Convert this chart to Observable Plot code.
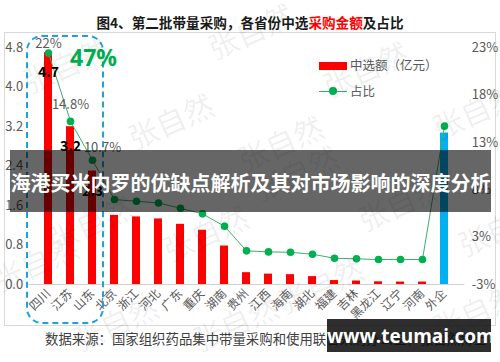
<!DOCTYPE html>
<html><head><meta charset="utf-8">
<script src="https://cdn.jsdelivr.net/npm/d3@7"></script>
<script src="https://cdn.jsdelivr.net/npm/@observablehq/plot@0.6"></script>
<style>
body{margin:0;background:#fff;font-family:"Noto Sans CJK SC","Noto Sans",sans-serif;}
#wrap{position:relative;width:500px;height:362px;overflow:hidden;background:#fff}
.abs{position:absolute;white-space:nowrap}
.wm{position:absolute;font-size:30px;color:rgba(0,0,0,0.07);transform:rotate(-24deg);transform-origin:center;white-space:nowrap;pointer-events:none}
</style></head><body><div id="wrap"></div>
<script>
const categories = ["四川","江苏","山东","北京","浙江","河北","广东","重庆","湖南","贵州","江西","海南","湖北","福建","吉林","黑龙江","辽宁","河南","外企"];
const amounts = [4.7,3.2,2.3,1.40,1.37,1.33,1.22,1.10,0.78,0.24,0.21,0.20,0.16,0.08,0.07,0.055,0.05,0.05,3.07];
const shares = [22.0,14.8,10.7,6.56,6.38,6.2,5.64,5.05,3.74,1.15,1.04,1.0,0.79,0.37,0.31,0.23,0.23,0.23,14.3];
const leftTicks = [0,0.8,1.6,2.4,3.2,4.0,4.8];
const rightTickLabels = ["-3%","3%","8%","13%","18%","23%"];
const shareLabels = ["22%","14.8%","10.7%"];
const amountLabels = ["4.7","3.2","2.3"];
const titleParts = ["图4、第二批带量采购，各省份中选","采购金额","及占比"];
const legendLabels = ["中选额（亿元）","占比"];
const highlightText = "47%";
const bannerText = "海港买米内罗的优缺点解析及其对市场影响的深度分析";
const sourceText = "数据来源：国家组织药品集中带量采购和使用联合采购办公室，张自然博士";
const siteText = "www.teumai.com";

const data = categories.map((c,i)=>({cat:c, amount:amounts[i], share:shares[i], i}));
const shareToY = d3.scaleLinear().domain([-2.4, 22.56]).range([0, 4.8]);
const rightTickPos = rightTickLabels.map((_, i) => 4.8 * i / (rightTickLabels.length - 1));
const font = '"Noto Sans CJK SC","Noto Sans",sans-serif';

const chart = Plot.plot({
  width: 500, height: 362,
  marginTop: 47.3, marginBottom: 78, marginLeft: 28.7, marginRight: 35.7,
  style: {background:"transparent", fontFamily: font, fontSize:"12px", color:"#595959", overflow:"visible"},
  x: {domain: categories, padding: 0.62, axis: null},
  y: {domain: [0, 4.8], axis: null},
  marks: [
    Plot.ruleY([0], {stroke:"#d0d0d0", strokeWidth:1}),
    Plot.barY(data, {x:"cat", y:"amount", fill: d => d.cat === "外企" ? "#00B0F0" : "#FF0000"}),
    Plot.line(data, {x:"cat", y: d => shareToY(d.share), stroke:"#3DAE6A", strokeWidth:1}),
    Plot.dot(data, {x:"cat", y: d => shareToY(d.share), r:3.8, fill:"#00B050", stroke:"none"}),
    Plot.axisY(leftTicks, {anchor:"left", label:null, tickSize:0, tickPadding:6, tickFormat: d => d.toFixed(1), fontSize:13, fill:"#595959"}),
    Plot.axisY(rightTickPos, {anchor:"right", label:null, tickSize:0, tickPadding:7, tickFormat: d => rightTickLabels[rightTickPos.indexOf(d)], fontSize:13, fill:"#595959"}),
    Plot.axisX({label:null, tickSize:0, tickRotate:-45, tickPadding:7, fontSize:12, fill:"#595959"}),
    Plot.text(data.filter(d => d.i === 0), {x:"cat", y: d => shareToY(d.share), text: d => shareLabels[d.i], dy:-9, fontSize:13, fill:"#595959"}),
    Plot.text(data.filter(d => d.i === 1), {x:"cat", y: d => shareToY(d.share), text: d => shareLabels[d.i], dy:-17, fontSize:13, fill:"#595959"}),
    Plot.text(data.filter(d => d.i === 2), {x:"cat", y: d => shareToY(d.share), text: d => shareLabels[d.i], dx:10, dy:-12, fontSize:13, fill:"#595959"}),
    Plot.text(data.filter(d => d.i < 3), {x:"cat", y:"amount", text: d => amountLabels[d.i], dy:20, fontSize:14, fontWeight:"bold", fill:"#000"})
  ]
});

const wrap = document.getElementById("wrap");
function add(html, style, cls="abs"){ const e=document.createElement("div"); e.className=cls; e.innerHTML=html; Object.assign(e.style, style); wrap.appendChild(e); return e; }

// frame
add("", {left:"4px", top:"32px", width:"490px", height:"292px", border:"1px solid #d9d9d9"});
// title
add(`${titleParts[0]}<span style="color:#FF0000">${titleParts[1]}</span>${titleParts[2]}`, {left:"0", width:"500px", top:"12px", textAlign:"center", fontSize:"13.6px", fontWeight:"bold", color:"#1a1a1a", lineHeight:"20px"});
// chart
chart.style.position="absolute"; chart.style.left="0"; chart.style.top="0";
wrap.appendChild(chart);
// dashed highlight box
add("", {left:"26px", top:"35px", width:"74px", height:"285px", border:"2px dashed #1AA3DF", borderRadius:"16px"});
add(highlightText, {left:"70px", top:"44px", fontSize:"23px", fontWeight:"bold", color:"#00B050", lineHeight:"26px", fontFamily:'"Open Sans","Noto Sans",sans-serif'});
// legend
add("", {left:"319px", top:"62px", width:"28px", height:"7.5px", background:"#FF0000"});
add(legendLabels[0], {left:"350px", top:"56px", fontSize:"12.5px", color:"#595959", lineHeight:"18px"});
add("", {left:"319px", top:"90.5px", width:"28px", height:"1px", background:"#3DAE6A"});
add("", {left:"329px", top:"87px", width:"8px", height:"8px", borderRadius:"50%", background:"#00B050"});
add(legendLabels[1], {left:"350px", top:"81.5px", fontSize:"12.5px", color:"#595959", lineHeight:"18px"});
// watermarks
[[20,42],[125,98],[205,8],[320,46],[430,88],[235,120],[250,150],[355,180],[455,205],[45,200],[160,210],[275,262],[430,288],[-10,240],[70,300],[190,300]].forEach(([x,y])=>add("张自然",{left:x+"px", top:y+"px"},"wm"));
// source
add(sourceText, {left:"45px", top:"329px", fontSize:"13.4px", color:"#404040", lineHeight:"18px"});
// banner
add(bannerText, {left:"10px", top:"150px", width:"481px", height:"62px", background:"rgba(0,0,0,0.6)", color:"#fff", fontSize:"20px", fontWeight:"bold", textAlign:"center", lineHeight:"66px", overflow:"hidden"});
// site box
add(siteText, {left:"327px", top:"319px", width:"164px", height:"33px", background:"rgba(12,12,12,0.86)", color:"#fff", fontSize:"19px", fontWeight:"bold", textAlign:"center", lineHeight:"35px", fontFamily:'"Open Sans","Noto Sans",sans-serif'});
</script></body></html>
